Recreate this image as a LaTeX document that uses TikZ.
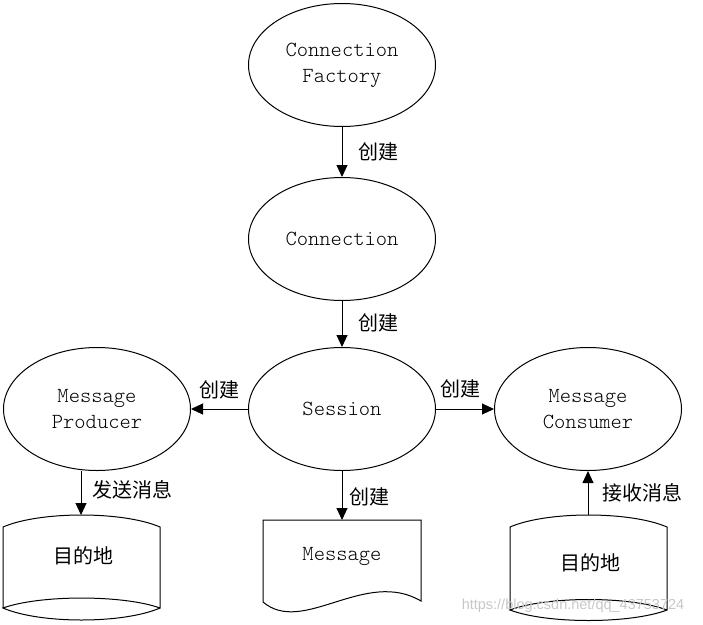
\documentclass[tikz,border=0pt]{standalone}
\usepackage{fontspec}
\newfontfamily\cjk{Noto Sans CJK SC}
\newfontfamily\wmfont{Liberation Sans}
\newfontfamily\lmono{Latin Modern Mono Light}
\usetikzlibrary{arrows.meta,shapes.geometric}
\tikzset{
  ell/.style={ellipse,draw,line width=1pt,minimum width=187pt,minimum height=123pt,inner sep=0pt,
    align=center,font=\lmono\fontsize{21.5}{26}\selectfont},
  lbl/.style={font=\cjk\fontsize{20}{24}\selectfont,inner sep=0pt},
  boxtxt/.style={inner sep=0pt},
  conn/.style={line width=1pt,-{Triangle[length=12pt,width=11pt]}},
  shp/.style={line width=1pt}
}
\begin{document}
\begin{tikzpicture}[x=1pt,y=-1pt]
\useasboundingbox (0,0) rectangle (703,624);
% ellipses
\node[ell] (cf) at (342,65) {Connection\\Factory};
\node[ell] (con) at (342,239) {Connection};
\node[ell] (ses) at (342,409) {Session};
\node[ell] (prod) at (97,409) {Message\\Producer};
\node[ell] (cons) at (588,409) {Message\\Consumer};
% left destination
\draw[shp] (3,608) -- (3,527) .. controls (40,511) and (123,511) .. (160,527) -- (160,608)
  .. controls (123,594.7) and (40,594.7) .. (3,608)
  .. controls (40,624) and (123,624) .. (160,608);
\node[lbl] (d1) at (83,556) {目的地};
\coordinate (d1top) at (81,515);
% message document
\draw[shp] (263,602) -- (263,520) -- (421,520) -- (421,601)
  .. controls (365,568) and (303,636) .. (263,602);
\node[boxtxt,font=\lmono\fontsize{21.5}{26}\selectfont] (msg) at (342,556) {Message};
\coordinate (msgtop) at (342,520);
% right destination
\draw[shp] (510,610) -- (510,527) .. controls (547,511) and (630,511) .. (667,527) -- (667,610)
  .. controls (630,596) and (547,596) .. (510,610)
  .. controls (547,624) and (630,624) .. (667,610);
\node[lbl] (d2) at (590,563) {目的地};
\coordinate (d2top) at (588,515);
% connectors
\draw[conn] (cf) -- (con);
\draw[conn] (con) -- (ses);
\draw[conn] (ses) -- (prod);
\draw[conn] (ses) -- (cons);
\draw[conn] (prod.south -| d1top) -- (d1top);
\draw[conn] (ses) -- (msgtop);
\draw[conn] (d2top) -- (cons);
% labels
\node[lbl] (l1) at (378,152) {创建};
\node[lbl] (l2) at (378,323) {创建};
\node[lbl] (l3) at (219,390) {创建};
\node[lbl] (l4) at (460,389) {创建};
\node[lbl] (l5) at (132,490) {发送消息};
\node[lbl] (l6) at (369,497) {创建};
\node[lbl] (l7) at (642,493) {接收消息};
% watermark
\node[font=\wmfont\fontsize{14.5}{16}\selectfont,text=black!22,inner sep=0pt] (wm) at (573,606) {https://blog.csdn.net/qq\_43753724};
\end{tikzpicture}
\end{document}
